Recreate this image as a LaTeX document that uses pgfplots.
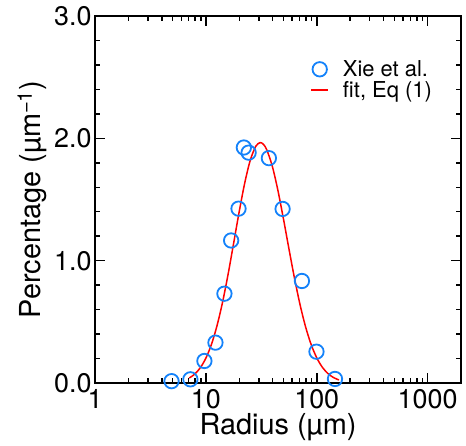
\documentclass[border=0pt]{standalone}
\usepackage{fontspec}
\setmainfont{TeX Gyre Heros}
\usepackage{pgfplots}
\pgfplotsset{compat=1.18}
\definecolor{ptblue}{RGB}{20,130,250}

\begin{document}
\begin{tikzpicture}
\begin{axis}[
  scale only axis, width=366bp, height=367bp,
  xmode=log, xmin=1, xmax=2000, ymin=0, ymax=3,
  xtick={1,10,100,1000}, xticklabels={1,10,100,1000},
  minor xtick={2,3,4,5,6,7,8,9,20,30,40,50,60,70,80,90,200,300,400,500,600,700,800,900,2000},
  ytick={0,1,2,3}, yticklabels={0.0,1.0,2.0,3.0},
  minor y tick num=4,
  tick align=inside, major tick length=10bp, minor tick length=5bp,
  axis line style={line width=1.8bp},
  every tick/.style={line width=1.5bp, black},
  /pgf/number format/assume math mode=true,
  tick label style={font=\fontsize{27}{30}\selectfont},
  xticklabel style={yshift=-3bp},
  label style={font=\fontsize{29}{32}\selectfont},
  xlabel={Radius (µm)}, ylabel={Percentage (µm\textsuperscript{−1})},
  xlabel style={yshift=2bp},
  legend style={draw=none, fill=none, at={(0.58,0.89)}, anchor=north west,
    font=\fontsize{22}{25}\selectfont, row sep=-1bp,
    /tikz/every odd column/.append style={column sep=12bp}},
  legend cell align=left,
  clip=false,
]
% fit curve, Eq (1)
\addplot[red, line width=1.5bp, smooth, forget plot] coordinates {
  (7.079,0.041) (7.943,0.073) (8.913,0.125) (10,0.203) (11.22,0.315)
  (12.59,0.467) (14.13,0.659) (15.85,0.887) (17.78,1.140) (19.95,1.397)
  (22.39,1.633) (25.12,1.820) (28.18,1.935) (30.90,1.965) (33.11,1.950)
  (35.48,1.905) (39.81,1.769) (44.67,1.573) (50.12,1.340) (56.23,1.093)
  (63.10,0.853) (70.79,0.638) (79.43,0.457) (89.13,0.313) (100,0.206)
  (112.2,0.129) (125.9,0.078) (141.3,0.045) (158.5,0.025)
};
% measured (Xie et al.)
\addplot[only marks, mark=o, mark size=7.2bp, ptblue, line width=1.8bp,
  mark options={fill=white}] coordinates {
  (4.9,0.015) (7.25,0.03) (9.7,0.18) (12.2,0.33) (14.7,0.73) (16.9,1.165)
  (19.7,1.425) (22.0,1.925) (24.3,1.883) (37.0,1.838) (49.2,1.423)
  (73.5,0.834) (99.4,0.256) (146,0.033)
};
\addlegendentry{Xie et al.}
\addlegendimage{red, line width=1.5bp}
\addlegendentry{fit, Eq (1)}
\end{axis}
\path (-95bp,-63bp) rectangle (371bp,383bp);
\end{tikzpicture}
\end{document}
